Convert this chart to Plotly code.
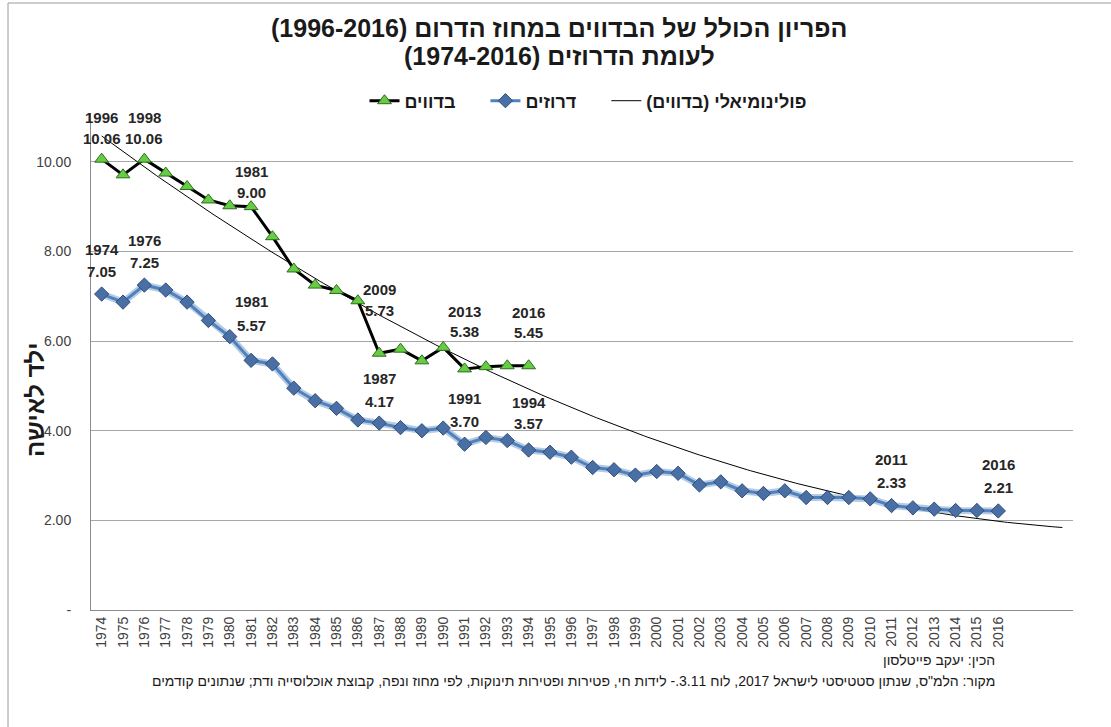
import numpy as np
import plotly.graph_objects as go

# ---------------- data ----------------
years = [str(y) for y in range(1974, 2017)]          # x-axis category labels
druze = [7.05, 6.87, 7.25, 7.14, 6.87, 6.46, 6.10, 5.57, 5.49, 4.95,
         4.67, 4.50, 4.24, 4.17, 4.07, 4.00, 4.06, 3.70, 3.85, 3.78,
         3.57, 3.52, 3.41, 3.18, 3.13, 3.01, 3.09, 3.05, 2.79, 2.86,
         2.66, 2.60, 2.66, 2.51, 2.51, 2.51, 2.48, 2.33, 2.28, 2.25,
         2.22, 2.22, 2.21]
bedouin = [10.06, 9.71, 10.06, 9.75, 9.45, 9.15, 9.02, 9.00, 8.33, 7.61,
           7.25, 7.13, 6.90, 5.73, 5.82, 5.56, 5.86, 5.38, 5.43, 5.45, 5.45]

bed_label_idx = [0, 2, 7, 13, 17, 20]
bed_label_years = ["1996", "1998", "1981", "2009", "2013", "2016"]
dru_label_idx = [0, 2, 7, 13, 17, 20, 37, 42]
dru_label_years = ["1974", "1976", "1981", "1987", "1991", "1994", "2011", "2016"]

name_bed = "בדווים"
name_dru = "דרוזים"
name_poly = "פולינומיאלי (בדווים)"
title_l1 = "הפריון הכולל של הבדווים במחוז הדרום (1996-2016)"
title_l2 = "לעומת הדרוזים (1974-2016)"
y_title = "ילד לאישה"
credit = "הכין: יעקב פייטלסון"
source = ("מקור: הלמ\"ס, שנתון סטטיסטי לישראל 2017, לוח 3.11.- לידות חי, "
          "פטירות ופטירות תינוקות, לפי מחוז ונפה, קבוצת אוכלוסייה ודת; שנתונים קודמים")

# ---------------- style ----------------
extra_cats = 3
n_cats = len(years) + extra_cats
bed_shifts = [(42, 21), (42, 21), (35, 14), (64, 43), (57, 37), (53, 33)]
dru_shifts = [(45, 23), (45, 23), (59, 35), (45, 22), (46, 23), (48, 27), (46, 23), (46, 23)]

L, R, T, B = 91, 38, 113, 117
PW, PH = 1111 - L - R, 727 - T - B
PAD = "\u00a0" * 5


def px_x(px):
    return (px - L) / PW


def px_y(py):
    return (727 - B - py) / PH


def rtl(s):
    return "\u202b" + s + "\u202c"


FONT = "Liberation Sans, Arial, sans-serif"
xi_d = list(range(len(druze)))
xi_b = list(range(len(bedouin)))

coef = np.polyfit(xi_b, bedouin, 2)
xt = np.linspace(0, n_cats - 1, 300)
yt = np.polyval(coef, xt)

fig = go.Figure()

fig.add_trace(go.Scatter(x=xt, y=yt, mode="lines", name=rtl(name_poly),
                         line=dict(color="black", width=1), hoverinfo="skip"))
# halo for druze line
fig.add_trace(go.Scatter(x=xi_d, y=druze, mode="lines", showlegend=False,
                         line=dict(color="rgba(149,179,215,0.7)", width=7),
                         hoverinfo="skip"))
fig.add_trace(go.Scatter(x=xi_d, y=druze, mode="lines+markers", name=rtl(name_dru) + PAD,
                         line=dict(color="#4F81BD", width=3),
                         marker=dict(symbol="diamond", size=11, color="#4A6FA5",
                                     line=dict(color="#2F4E7A", width=1))))
fig.add_trace(go.Scatter(x=xi_b, y=bedouin, mode="lines+markers", name=rtl(name_bed) + PAD,
                         line=dict(color="black", width=3),
                         marker=dict(symbol="triangle-up", size=12, color="#66CC44",
                                     line=dict(color="#2E6B1F", width=1))))

lab_font = dict(family=FONT, size=15, color="#262626")
for idx, yr, (s1, s2) in zip(bed_label_idx, bed_label_years, bed_shifts):
    v = bedouin[idx]
    fig.add_annotation(x=idx, y=v, text="<b>%s</b>" % yr, showarrow=False,
                       yshift=s1, font=lab_font)
    fig.add_annotation(x=idx, y=v, text="<b>%.2f</b>" % v, showarrow=False,
                       yshift=s2, font=lab_font)
for idx, yr, (s1, s2) in zip(dru_label_idx, dru_label_years, dru_shifts):
    v = druze[idx]
    fig.add_annotation(x=idx, y=v, text="<b>%s</b>" % yr, showarrow=False,
                       yshift=s1, font=lab_font)
    fig.add_annotation(x=idx, y=v, text="<b>%.2f</b>" % v, showarrow=False,
                       yshift=s2, font=lab_font)

# titles
for txt, ty in [(title_l1, 28), (title_l2, 56)]:
    fig.add_annotation(xref="paper", yref="paper", x=px_x(559), y=px_y(ty),
                       xanchor="center", yanchor="middle",
                       text="<b>%s</b>" % rtl(txt), showarrow=False,
                       font=dict(family=FONT, size=25, color="#1a1a1a"))
# y axis title as annotation
fig.add_annotation(xref="paper", yref="paper", x=px_x(35), y=px_y(400),
                   xanchor="center", yanchor="middle",
                   text="<b>%s</b>" % rtl(y_title), textangle=-90, showarrow=False,
                   font=dict(family=FONT, size=24, color="#1a1a1a"))
# footnotes
fig.add_annotation(xref="paper", yref="paper", x=px_x(997), y=px_y(660),
                   xanchor="right", yanchor="middle", text=rtl(credit), showarrow=False,
                   font=dict(family=FONT, size=14, color="#1a1a1a"))
fig.add_annotation(xref="paper", yref="paper", x=px_x(997), y=px_y(681),
                   xanchor="right", yanchor="middle", text=rtl(source), showarrow=False,
                   font=dict(family=FONT, size=14, color="#1a1a1a"))

# outer border
fig.add_shape(type="rect", xref="paper", yref="paper",
              x0=px_x(8), x1=px_x(1120), y0=px_y(740), y1=px_y(3),
              line=dict(color="#9a9a9a", width=1), layer="below")

fig.update_layout(
    width=1111, height=727,
    margin=dict(l=L, r=R, t=T, b=B),
    paper_bgcolor="white", plot_bgcolor="white",
    font=dict(family=FONT, color="#404040"),
    legend=dict(orientation="h", x=px_x(588), y=px_y(101), xanchor="center",
                yanchor="middle",
                font=dict(family=FONT, size=18, color="#1a1a1a", weight="bold"),
                traceorder="reversed", itemwidth=30, bgcolor="rgba(0,0,0,0)"),
    showlegend=True,
)
fig.update_xaxes(range=[-0.5, n_cats - 0.5], tickmode="array",
                 tickvals=list(range(len(years))), ticktext=years, tickangle=-90,
                 tickfont=dict(family=FONT, size=14, color="#404040"),
                 showgrid=False, zeroline=False, showline=True,
                 linecolor="#8c8c8c", linewidth=1, ticks="")
fig.update_yaxes(range=[0, 11.09], tickmode="array",
                 tickvals=[0, 2, 4, 6, 8, 10],
                 ticktext=["-", "2.00", "4.00", "6.00", "8.00", "10.00"],
                 tickfont=dict(family=FONT, size=14, color="#404040"),
                 showgrid=True, gridcolor="#a6a6a6", gridwidth=1,
                 zeroline=False, showline=True, linecolor="#8c8c8c", linewidth=1,
                 ticks="", ticklabelstandoff=16)

fig.write_html("out.html", config={"displayModeBar": False},
               post_script="document.body.style.margin='0px';"
                           "document.body.style.overflow='hidden';")
